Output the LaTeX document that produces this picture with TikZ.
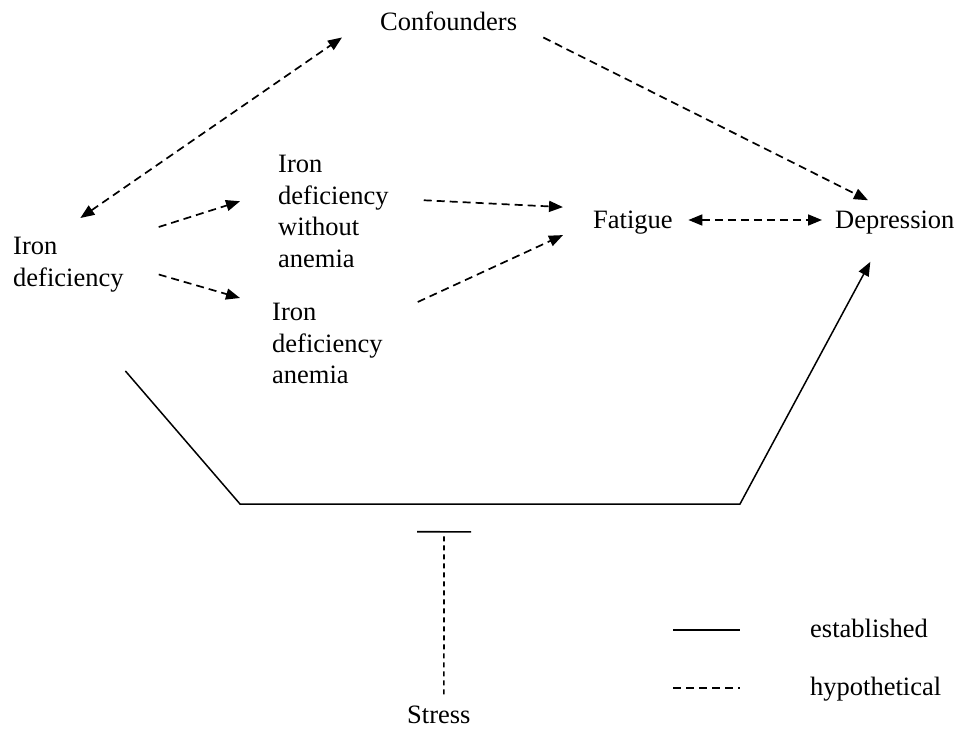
\documentclass[tikz,border=0pt]{standalone}
\usepackage{fontspec}
\setmainfont{Liberation Serif}
\usetikzlibrary{arrows.meta}

\begin{document}
\begin{tikzpicture}[
    x=1pt, y=-1pt,
    lbl/.style={inner sep=0pt, font=\fontsize{26.5}{31.5}\selectfont},
    mlbl/.style={lbl, align=left, anchor=north west},
    est/.style={line width=1.5pt, draw=black},
    hyp/.style={line width=1.7pt, draw=black, dash pattern=on 8pt off 5pt},
    onearr/.style={-{Triangle[length=14pt,width=11pt]}},
    twoarr/.style={{Triangle[length=14pt,width=11pt]}-{Triangle[length=14pt,width=11pt]}},
]
\useasboundingbox (0,0) rectangle (961,730);

% --- Top: confounders ---
\node[lbl, anchor=base west] (conf) at (380,31) {Confounders};

% --- Middle row: exposures and outcomes ---
\node[mlbl] (irondef) at (13,237)  {Iron\\deficiency};
\node[mlbl] (idwoa)   at (278,155) {Iron\\deficiency\\without\\anemia};
\node[mlbl] (ida)     at (272,303) {Iron\\deficiency\\anemia};
\node[lbl, anchor=base west] (fatigue) at (593,229) {Fatigue};
\node[lbl, anchor=base west] (dep)     at (835,229) {Depression};

% --- Bottom: stress ---
\node[lbl, anchor=base west] (stress) at (407,723) {Stress};
\coordinate (bendl) at (240,504);
\coordinate (bendr) at (740,504);
\coordinate (blk)   at (444,531);

% --- Legend ---
\node[lbl, anchor=base west] (estl) at (810,637) {established};
\node[lbl, anchor=base west] (hypl) at (810,695) {hypothetical};

% === CONNECTIONS ===

% confounders
\draw[hyp, twoarr] ([shift={(12,-19)}]irondef.north) -- ([shift={(-38,6)}]conf.south west);
\draw[hyp, onearr] ([shift={(26,6)}]conf.south east) -- ([shift={(33,-11)}]dep.north west);

% iron deficiency -> subtypes
\draw[hyp, onearr] ([shift={(35,-10)}]irondef.north east) -- ([shift={(-38,-10)}]idwoa.west);
\draw[hyp, onearr] ([shift={(35,10)}]irondef.east) -- ([shift={(-32,-5)}]ida.north west);

% subtypes -> fatigue
\draw[hyp, onearr] ([shift={(35,-11)}]idwoa.east) -- ([shift={(-30,-16)}]fatigue.west);
\draw[hyp, onearr] ([shift={(35,-1)}]ida.north east) -- ([shift={(-30,12)}]fatigue.west);

% fatigue <-> depression
\draw[hyp, twoarr] ([shift={(15.5,-9)}]fatigue.base east) -- ([shift={(-13,-9)}]dep.base west);

% established path (routed below)
\draw[est, onearr] ([shift={(57,79)}]irondef.south) -- (bendl) -- (bendr) -- ([shift={(-24.5,27)}]dep.south);

% stress blocks the path
\draw[hyp, dash pattern=on 5pt off 4pt, -{Bar[width=54pt, line width=1.7pt]}] ([shift={(5,-11)}]stress.north) -- (blk);

% legend lines
\draw[est] ([shift={(-137,-7)}]estl.base west) -- ++(67,0);
\draw[hyp] ([shift={(-137,-7)}]hypl.base west) -- ++(67,0);
\end{tikzpicture}
\end{document}
